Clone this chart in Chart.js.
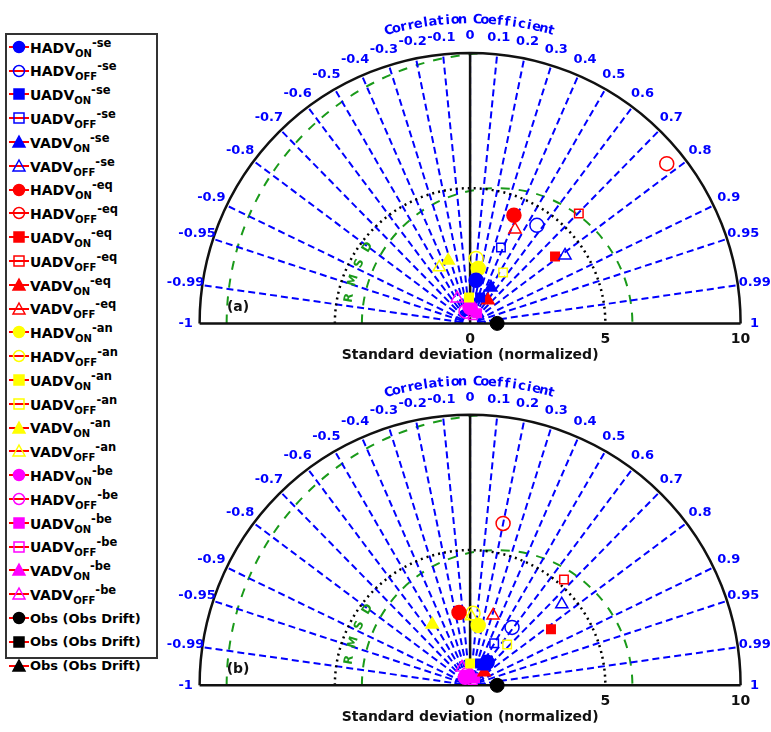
<!DOCTYPE html>
<html>
<head>
<meta charset="utf-8">
<script src="https://cdn.jsdelivr.net/npm/chart.js@4.4.1/dist/chart.umd.min.js"></script>
<style>
body { margin: 0; background: #fff; font-family: "DejaVu Sans", sans-serif; }
#legend { position: absolute; left: 5px; top: 33px; width: 153px; height: 626px; border: 2px solid #333; box-sizing: border-box; padding-top: 0px; }
.item { height: 23.8px; display: flex; align-items: center; font-weight: bold; font-size: 14px; white-space: nowrap; }
.item svg { margin-left: 2px; margin-right: 1px; }
sub { font-size: 10px; vertical-align: -4px; }
sup { font-size: 11.5px; }
canvas { position: absolute; left: 160px; }
</style>
</head>
<body>
<div id="legend"></div>
<canvas id="chartA" width="611" height="366" style="top:0px"></canvas>
<canvas id="chartB" width="611" height="366" style="top:366px"></canvas>
<script>
// series: var x ON/OFF x region, plus obs
const models = ['HADV', 'UADV', 'VADV'];
const regions = ['se', 'eq', 'an', 'be'];
const regionColors = { se: '#0000ff', eq: '#ff0000', an: '#ffff00', be: '#ff00ff' };
const modelShapes = { HADV: 'circle', UADV: 'rect', VADV: 'triangle' };

// projected coordinates: x = std*R, y = std*sqrt(1-R^2), order follows legend
const panelA_x = [0.22, 2.47, 0.37, 1.14, 0.77, 3.51,
                  1.62, 7.27, 3.14, 4.02, 0.66, 1.66,
                  0.30, 0.22, -0.04, 1.22, -0.81, -1.14,
                  0.00, -0.15, 0.26, 0.10, 0.10, -0.48];
const panelA_y = [1.59, 3.62, 0.96, 2.80, 1.33, 2.51,
                  3.99, 5.90, 2.47, 4.06, 0.85, 3.47,
                  2.03, 2.40, 0.96, 1.88, 2.32, 2.07,
                  0.59, 0.45, 0.37, 0.30, 0.55, 0.92];
const panelB_x = [0.63, 1.55, 0.37, 0.89, 0.50, 3.39,
                  -0.41, 1.22, 2.99, 3.47, 0.52, 0.85,
                  0.30, 0.11, 0.00, 1.37, -1.40, 0.04,
                  -0.18, -0.10, 0.18, 0.10, 0.00, -0.30];
const panelB_y = [0.85, 2.14, 0.81, 1.55, 0.70, 2.99,
                  2.69, 5.98, 2.07, 3.91, 0.48, 2.58,
                  2.21, 2.66, 0.81, 1.51, 2.25, 2.55,
                  0.30, 0.40, 0.26, 0.20, 0.45, 0.66];
const obs = { x: 1, y: 0 };

const corrTicks = [-1, -0.99, -0.95, -0.9, -0.8, -0.7, -0.6, -0.5, -0.4, -0.3, -0.2, -0.1, 0,
                   0.1, 0.2, 0.3, 0.4, 0.5, 0.6, 0.7, 0.8, 0.9, 0.95, 0.99, 1];
const stdTicks = [0, 5, 10];
const rmsRadii = [5, 10];
const stdMax = 10;

// series list
const series = [];
regions.forEach(r => models.forEach(m => ['ON', 'OFF'].forEach(s => {
  series.push({ model: m, state: s, region: r });
})));

// legend
const legend = document.getElementById('legend');
function markerSvg(shape, color, filled) {
  const f = filled ? color : 'none';
  let m;
  if (shape === 'circle') m = `<circle cx="10" cy="8" r="5.5" fill="${f}" stroke="${color}" stroke-width="1.5"/>`;
  else if (shape === 'rect') m = `<rect x="5" y="3" width="10" height="10" fill="${f}" stroke="${color}" stroke-width="1.5"/>`;
  else m = `<polygon points="10,2 16,13 4,13" fill="${f}" stroke="${color}" stroke-width="1.5"/>`;
  return `<svg width="20" height="16"><line x1="0" y1="8" x2="20" y2="8" stroke="#ff0000" stroke-width="2"/>${m}</svg>`;
}
series.forEach(s => {
  const d = document.createElement('div');
  d.className = 'item';
  d.innerHTML = markerSvg(modelShapes[s.model], regionColors[s.region], s.state === 'ON') +
    `<span>${s.model}<sub>${s.state}</sub><sup>-${s.region}</sup></span>`;
  legend.appendChild(d);
});
['circle', 'rect', 'triangle'].forEach(sh => {
  const d = document.createElement('div');
  d.className = 'item';
  d.style.fontSize = '13px';
  d.innerHTML = markerSvg(sh, '#000', true) + '<span>Obs (Obs Drift)</span>';
  legend.appendChild(d);
});

const taylorPlugin = {
  id: 'taylor',
  beforeDatasetsDraw(chart, args, opts) {
    const ctx = chart.ctx;
    const xs = chart.scales.x, ys = chart.scales.y;
    const cx = xs.getPixelForValue(0), cy = ys.getPixelForValue(0);
    const k = xs.getPixelForValue(1) - cx;
    const R = stdMax * k;
    ctx.save();
    // rms circles, clipped to the semicircle
    ctx.save();
    ctx.beginPath();
    ctx.arc(cx, cy, R, Math.PI, 2 * Math.PI);
    ctx.closePath();
    ctx.clip();
    ctx.strokeStyle = '#1a9a1a';
    ctx.lineWidth = 2;
    ctx.setLineDash([9, 9]);
    const ox = xs.getPixelForValue(obs.x);
    rmsRadii.forEach(r => {
      ctx.beginPath();
      ctx.arc(ox, cy, r * k, Math.PI, 2 * Math.PI);
      ctx.stroke();
    });
    ctx.restore();
    // radial lines
    ctx.strokeStyle = '#0000ff';
    ctx.lineWidth = 2;
    ctx.setLineDash([7, 4]);
    corrTicks.forEach(c => {
      if (Math.abs(c) === 1) return;
      const a = Math.acos(c);
      ctx.beginPath();
      ctx.moveTo(cx + 0.3 * k * Math.cos(a), cy - 0.3 * k * Math.sin(a));
      ctx.lineTo(cx + R * Math.cos(a), cy - R * Math.sin(a));
      ctx.stroke();
    });
    [0.3, 0.55].forEach(r => {
      ctx.beginPath();
      ctx.arc(cx, cy, r * k, Math.PI, 2 * Math.PI);
      ctx.stroke();
    });
    // std 5 dotted
    ctx.strokeStyle = '#000';
    ctx.setLineDash([2, 4]);
    ctx.lineWidth = 2.5;
    ctx.beginPath();
    ctx.arc(cx, cy, 5 * k, Math.PI, 2 * Math.PI);
    ctx.stroke();
    // frame
    ctx.setLineDash([]);
    ctx.lineWidth = 2.5;
    ctx.strokeStyle = '#111';
    ctx.beginPath();
    ctx.arc(cx, cy, R, Math.PI, 2 * Math.PI);
    ctx.moveTo(cx - R, cy); ctx.lineTo(cx + R, cy);
    ctx.moveTo(cx, cy); ctx.lineTo(cx, cy - R);
    ctx.stroke();
    // corr labels
    ctx.fillStyle = '#0000ff';
    ctx.font = 'bold 13px "DejaVu Sans"';
    ctx.textAlign = 'center';
    ctx.textBaseline = 'middle';
    corrTicks.forEach(c => {
      const a = Math.acos(c);
      const rr = Math.abs(c) === 1 ? R + 14 : R + 17;
      ctx.fillText(String(c), cx + rr * Math.cos(a), cy - rr * Math.sin(a));
    });
    // curved title
    ctx.font = 'bold 13px "DejaVu Sans"';
    const title = 'Correlation Coefficient';
    const tr = R + 33;
    const charAng = 0.0245;
    let a0 = Math.PI / 2 + charAng * (title.length - 1) / 2;
    for (let i = 0; i < title.length; i++) {
      const a = a0 - i * charAng;
      ctx.save();
      ctx.translate(cx + tr * Math.cos(a), cy - tr * Math.sin(a));
      ctx.rotate(Math.PI / 2 - a);
      ctx.fillText(title[i], 0, 0);
      ctx.restore();
    }
    // std ticks
    ctx.fillStyle = '#111';
    ctx.font = 'bold 14px "DejaVu Sans"';
    stdTicks.forEach(t => ctx.fillText(String(t), xs.getPixelForValue(t), cy + 16));
    ctx.fillText('Standard deviation (normalized)', cx, cy + 32);
    ctx.fillText(opts.tag, cx - 232, cy - 16);
    // RMSD label
    ctx.fillStyle = '#1a9a1a';
    ctx.font = 'bold 12px "DejaVu Sans"';
    const rl = 'RMSD';
    for (let i = 0; i < rl.length; i++) {
      const a = Math.PI - 0.17 - i * 0.12;
      ctx.save();
      ctx.translate(ox + 5.55 * k * Math.cos(a), cy - 5.55 * k * Math.sin(a));
      ctx.rotate(Math.PI / 2 - a);
      ctx.fillText(rl[i], 0, 0);
      ctx.restore();
    }
    ctx.restore();
  }
};

function buildChart(id, px, py, ymax, ymin, tag) {
  const datasets = series.map((s, i) => ({
    label: s.model + '_' + s.state + '-' + s.region,
    data: [{ x: px[i], y: py[i] }],
    pointStyle: modelShapes[s.model],
    pointRadius: s.model === 'UADV' ? 6 : 7,
    pointBorderWidth: 1.5,
    borderColor: regionColors[s.region],
    backgroundColor: s.state === 'ON' ? regionColors[s.region] : 'rgba(0,0,0,0)'
  }));
  datasets.push({
    label: 'Obs',
    data: [obs],
    pointStyle: 'circle',
    pointRadius: 7,
    borderColor: '#000',
    backgroundColor: '#000'
  });
  return new Chart(document.getElementById(id), {
    type: 'scatter',
    data: { datasets },
    options: {
      responsive: false,
      animation: false,
      clip: false,
      layout: { padding: 0 },
      scales: {
        x: { type: 'linear', min: -11.15, max: 10.81, display: false },
        y: { type: 'linear', min: ymin, max: ymax, display: false }
      },
      plugins: {
        legend: { display: false },
        tooltip: { enabled: false },
        taylor: { tag }
      }
    },
    plugins: [taylorPlugin]
  });
}

buildChart('chartA', panelA_x, panelA_y, 11.63, -1.26, '(a)');
buildChart('chartB', panelB_x, panelB_y, 11.48, -1.41, '(b)');
</script>
</body>
</html>
